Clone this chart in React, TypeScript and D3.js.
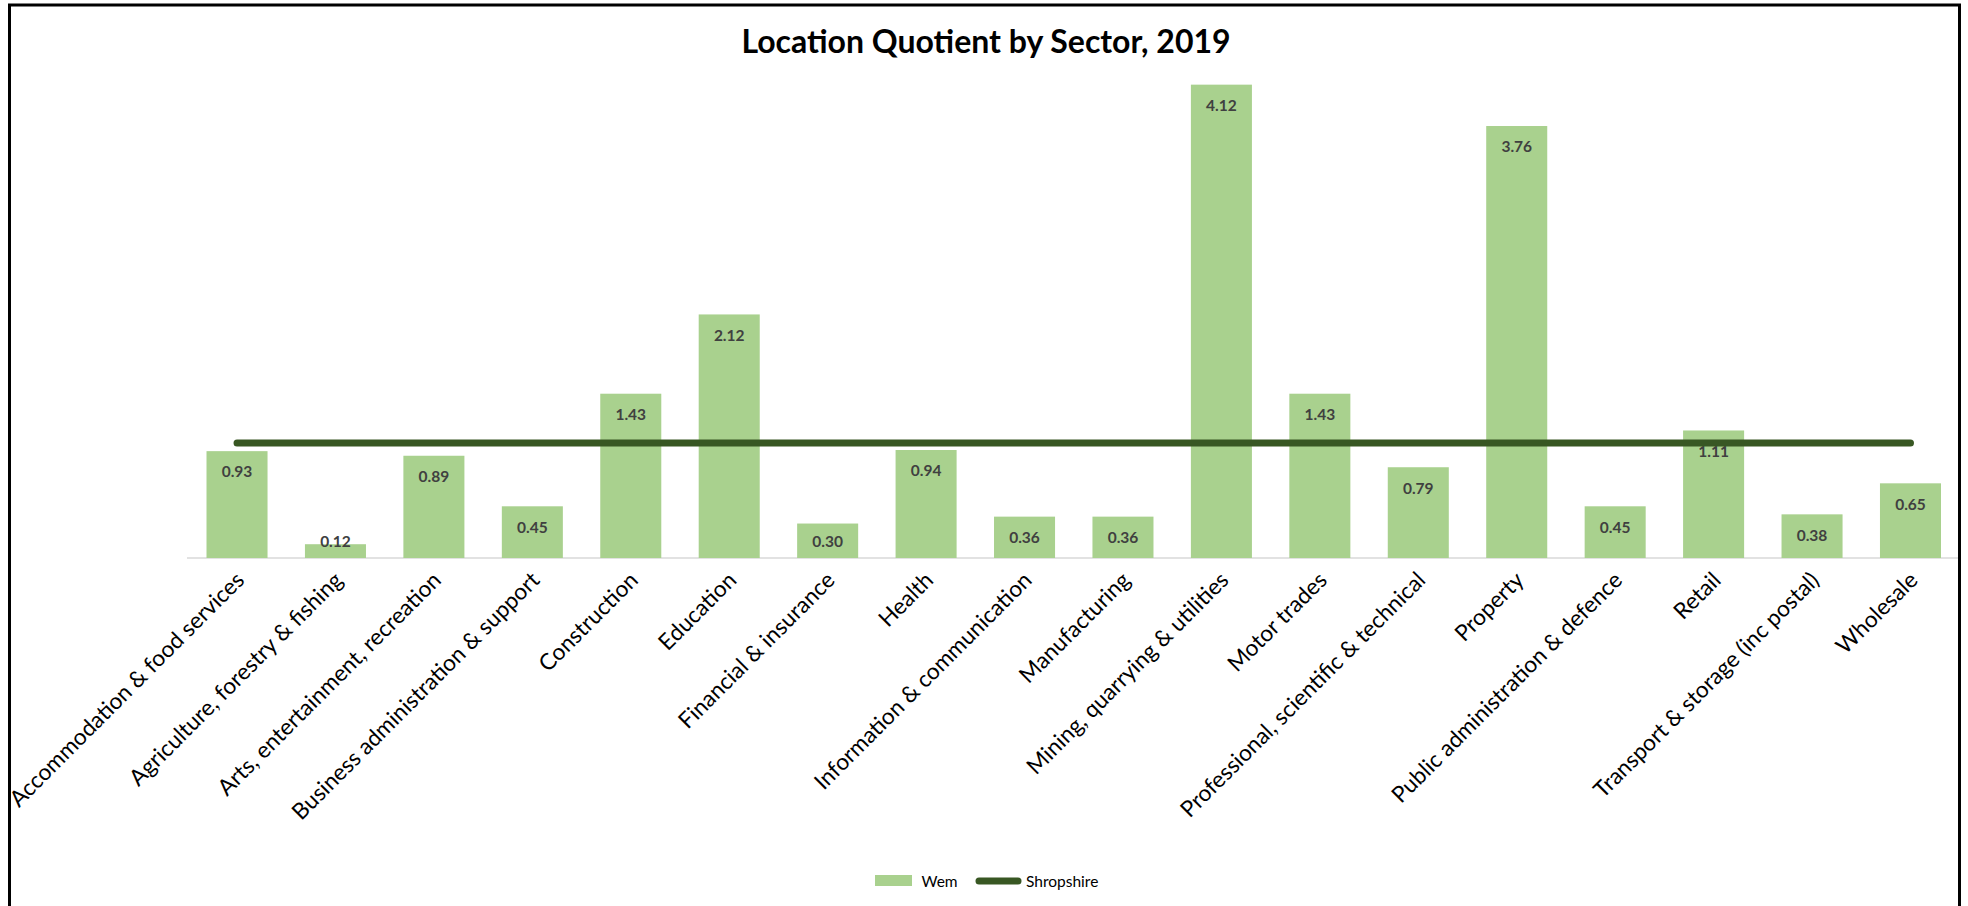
import React from "react";
import * as d3 from "d3";

const categories = [
  "Accommodation & food services",
  "Agriculture, forestry & fishing",
  "Arts, entertainment, recreation",
  "Business administration & support",
  "Construction",
  "Education",
  "Financial & insurance",
  "Health",
  "Information & communication",
  "Manufacturing",
  "Mining, quarrying & utilities",
  "Motor trades",
  "Professional, scientific & technical",
  "Property",
  "Public administration & defence",
  "Retail",
  "Transport & storage (inc postal)",
  "Wholesale",
];
const wemValues = [0.93, 0.12, 0.89, 0.45, 1.43, 2.12, 0.3, 0.94, 0.36, 0.36, 4.12, 1.43, 0.79, 3.76, 0.45, 1.11, 0.38, 0.65];
const shropshireValues = [1, 1, 1, 1, 1, 1, 1, 1, 1, 1, 1, 1, 1, 1, 1, 1, 1, 1];
const seriesNames = ["Wem", "Shropshire"];
const title = "Location Quotient by Sector, 2019";

const W = 1968;
const H = 906;
const BAR = "#a9d18e";
const LINE = "#385723";
const FONT = "Lato, 'Open Sans', sans-serif";

export default function App() {
  const x = d3
    .scaleBand<string>()
    .domain(categories)
    .range([187.8, 1959.7])
    .paddingInner(0.38)
    .paddingOuter(0.19);
  const y = d3.scaleLinear().domain([0, 4.5]).range([558, 41]);
  const base = y(0);
  const cx = (c: string) => (x(c) as number) + x.bandwidth() / 2;

  const line = d3
    .line<number>()
    .x((_, i) => cx(categories[i]))
    .y((v) => y(v));

  return (
    <svg
      width={W}
      height={H}
      style={{ position: "absolute", left: 0, top: 0, background: "#fff" }}
      fontFamily={FONT}
    >
      <rect x={0} y={0} width={W} height={H} fill="#fff" />
      <rect x={9.5} y={5} width={1950} height={930} fill="none" stroke="#000" strokeWidth={3} />
      <text x={986} y={53} textAnchor="middle" fontSize={32} fontWeight={700} fill="#000">
        {title}
      </text>
      <line x1={187} x2={1958} y1={base} y2={base} stroke="#d9d9d9" strokeWidth={1.5} />
      {categories.map((c, i) => (
        <rect
          key={c}
          x={x(c)}
          y={y(wemValues[i])}
          width={x.bandwidth()}
          height={base - y(wemValues[i])}
          fill={BAR}
        />
      ))}
      {categories.map((c, i) => {
        const top = y(wemValues[i]);
        const cy = Math.min(top + 20.7, base - 17);
        return (
          <text
            key={c}
            x={cx(c)}
            y={cy + 5.6}
            textAnchor="middle"
            fontSize={15.5}
            fontWeight={700}
            fill="#404040"
          >
            {wemValues[i].toFixed(2)}
          </text>
        );
      })}
      <path
        d={line(shropshireValues) || ""}
        fill="none"
        stroke={LINE}
        strokeWidth={7}
        strokeLinecap="round"
      />
      {categories.map((c) => (
        <text
          key={c}
          transform={`translate(${cx(c) + 3},${576}) rotate(-45)`}
          textAnchor="end"
          dy="0.35em"
          fontSize={22.6}
          fill="#000"
        >
          {c}
        </text>
      ))}
      <g>
        <rect x={875} y={875} width={37} height={11} fill={BAR} />
        <text x={921.5} y={887} fontSize={15.5} fill="#000">
          {seriesNames[0]}
        </text>
        <line x1={979} x2={1018} y1={881} y2={881} stroke={LINE} strokeWidth={7} strokeLinecap="round" />
        <text x={1026} y={887} fontSize={15.5} fill="#000">
          {seriesNames[1]}
        </text>
      </g>
    </svg>
  );
}
